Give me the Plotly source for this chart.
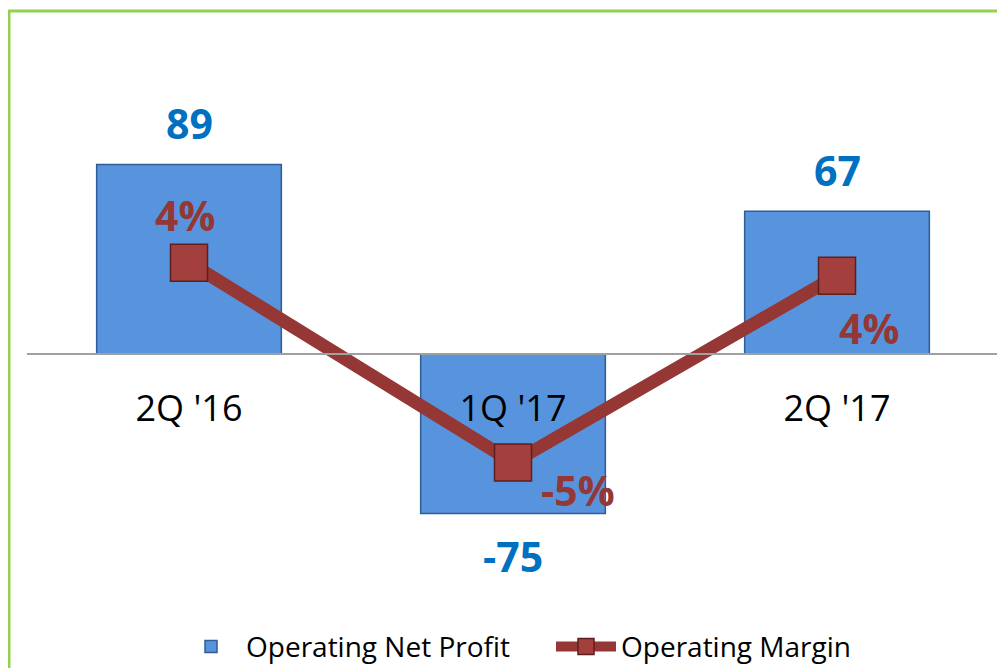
import plotly.graph_objects as go

categories = ["2Q '16", "1Q '17", "2Q '17"]
net_profit = [89, -75, 67]
margin_pct = [4.2, -5.0, 3.6]

# page has an 8px body margin; vertical capture is slightly compressed
S = 680.0 / 668.0
def fy(target):
    return target * S - 8

W, H = 989, 664
ML, MR = 19, 0
MT = fy(40)
MB = H - fy(600)
PW = W - ML - MR
PH = H - MT - MB

y1_range = [-115.22, 147.07]
y2_range = [-11.28, 14.40]
x_range = [-0.5, -0.5 + PW / 324.0]
zero_pos = -y1_range[0] / (y1_range[1] - y1_range[0])

def paper_y(target):
    return (MT + PH - fy(target)) / PH

FONT = "Open Sans"
BLUE_TXT = "#0070C0"
RED_TXT = "#953735"

fig = go.Figure()
fig.add_trace(go.Bar(
    x=categories, y=net_profit, name="Operating Net Profit",
    width=0.57,
    marker=dict(color="#5894DD", line=dict(color="#2F5D96", width=1.5)),
    yaxis="y",
))
fig.add_trace(go.Scatter(
    x=categories, y=margin_pct, name="Operating Margin",
    mode="lines+markers",
    line=dict(color="#953735", width=13),
    marker=dict(symbol="square", size=37, color="#A33F3C",
                line=dict(color="#5E1F1D", width=1.5)),
    yaxis="y2",
))

annotations = []
for c, v in zip(categories, net_profit):
    annotations.append(dict(
        x=c, y=v, xref="x", yref="y", text=f"{v:.0f}", showarrow=False,
        yshift=(41 if v > 0 else -42) * S, yanchor="middle",
        font=dict(family=FONT, size=41, color=BLUE_TXT, weight="bold"),
    ))

pct_offsets = [(-4, 47), (65, -27), (32, -51)]
for (c, v), (dx, dy) in zip(zip(categories, margin_pct), pct_offsets):
    annotations.append(dict(
        x=c, y=v, xref="x", yref="y2", text=f"{v:.0f}%", showarrow=False,
        xshift=dx, yshift=dy * S, yanchor="middle", xanchor="center",
        font=dict(family=FONT, size=41, color=RED_TXT, weight="bold"),
    ))

fig.update_layout(
    width=W, height=H,
    margin=dict(l=ML, r=MR, t=MT, b=MB, pad=0),
    paper_bgcolor="white", plot_bgcolor="white",
    font=dict(family=FONT, color="black"),
    showlegend=True,
    legend=dict(orientation="h", x=(168 - ML) / PW, xanchor="left",
                y=paper_y(648), yanchor="middle",
                font=dict(family=FONT, size=28, color="black"),
                itemwidth=60, entrywidth=300, traceorder="normal"),
    xaxis=dict(
        type="category", range=x_range,
        anchor="free", position=zero_pos,
        showline=True, linecolor="#A0A0A0", linewidth=2,
        ticks="", showgrid=False,
        tickfont=dict(family=FONT, size=36, color="black"),
        ticklabelstandoff=23,
    ),
    yaxis=dict(range=y1_range, visible=False, showgrid=False, zeroline=False),
    yaxis2=dict(range=y2_range, overlaying="y", visible=False, showgrid=False, zeroline=False),
    annotations=annotations,
    shapes=[dict(
        type="rect", xref="paper", yref="paper",
        x0=(1 - ML) / PW, x1=(W + 20 - ML) / PW,
        y0=paper_y(720), y1=paper_y(10),
        line=dict(color="#92D050", width=3), fillcolor="rgba(0,0,0,0)", layer="below",
    )],
)

fig.write_html("out.html")
